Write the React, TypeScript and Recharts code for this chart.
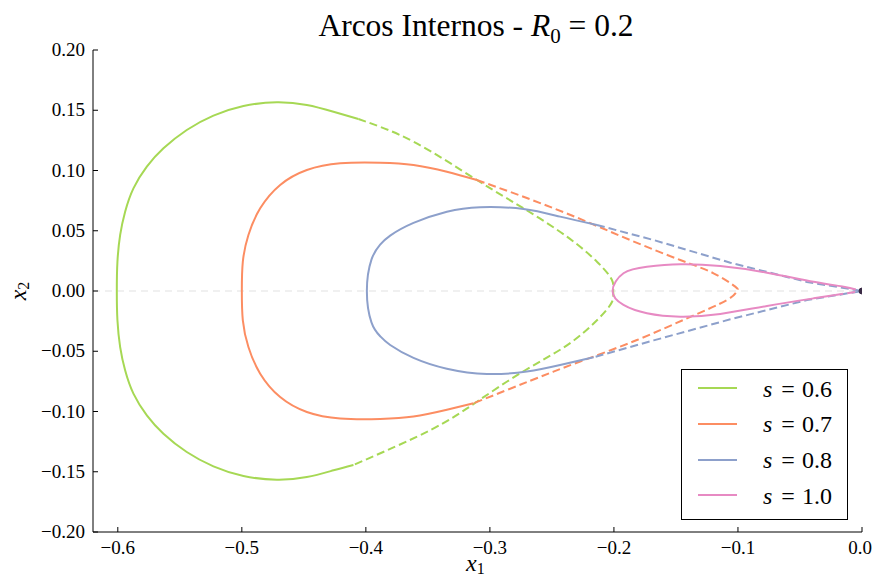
import { ComposedChart, Line, XAxis, YAxis, ReferenceLine } from "recharts"

const SERIF = "'Liberation Serif', 'Times New Roman', serif"

const xTicks = [-0.6, -0.5, -0.4, -0.3, -0.2, -0.1, 0]
const xTickLabels = ["\u22120.6", "\u22120.5", "\u22120.4", "\u22120.3", "\u22120.2", "\u22120.1", "0.0"]
const yTicks = [-0.2, -0.15, -0.1, -0.05, 0, 0.05, 0.1, 0.15, 0.2]
const yTickLabels = ["\u22120.20", "\u22120.15", "\u22120.10", "\u22120.05", "0.00", "0.05", "0.10", "0.15", "0.20"]

const seriesValues = ["0.6", "0.7", "0.8", "1.0"]
const colors = ["#a6d854", "#fc8d62", "#8da0cb", "#e78ac3"]

// [x1, x2] pairs, solid part then dashed part of each arc
const s06Solid = [
  [-0.406, 0.1427], [-0.4261, 0.1488], [-0.4476, 0.1544], [-0.4718, 0.1566], [-0.4987, 0.1535],
  [-0.5229, 0.1455], [-0.5444, 0.1336], [-0.5632, 0.1184], [-0.5766, 0.1032], [-0.5874, 0.0852],
  [-0.5941, 0.0658], [-0.5981, 0.0465], [-0.6003, 0.0243], [-0.6008, 0], [-0.6003, -0.0243],
  [-0.5981, -0.0465], [-0.5941, -0.0658], [-0.5874, -0.0852], [-0.5766, -0.1032], [-0.5632, -0.1184],
  [-0.5444, -0.1336], [-0.5229, -0.1455], [-0.4987, -0.1535], [-0.4718, -0.1566], [-0.4476, -0.1544],
  [-0.4261, -0.1488], [-0.41, -0.1444],
]
const s06Dashed = [
  [-0.406, 0.1427], [-0.3616, 0.1239], [-0.3105, 0.0921], [-0.2729, 0.0686], [-0.2379, 0.0451],
  [-0.2137, 0.0243], [-0.2016, 0.0091], [-0.2006, 0], [-0.2016, -0.0091], [-0.2137, -0.0243],
  [-0.2379, -0.0451], [-0.2729, -0.0666], [-0.3105, -0.0919], [-0.348, -0.1154], [-0.41, -0.1444],
]
const s07Solid = [
  [-0.3105, 0.0921], [-0.3347, 0.099], [-0.3616, 0.1046], [-0.3885, 0.1065], [-0.4207, 0.106],
  [-0.4476, 0.1004], [-0.4691, 0.088], [-0.4852, 0.0686], [-0.4947, 0.0465], [-0.4992, 0.0243],
  [-0.5, 0], [-0.4992, -0.0243], [-0.4947, -0.0465], [-0.4852, -0.0686], [-0.4691, -0.088],
  [-0.4476, -0.1004], [-0.4207, -0.1058], [-0.3885, -0.1062], [-0.3616, -0.1042], [-0.3347, -0.0985],
  [-0.3132, -0.0932],
]
const s07Dashed = [
  [-0.3105, 0.0921], [-0.2675, 0.0761], [-0.2272, 0.0598], [-0.1869, 0.0423], [-0.1465, 0.0257],
  [-0.1197, 0.0147], [-0.1022, 0.0036], [-0.1008, 0], [-0.1089, -0.0075], [-0.1411, -0.0227],
  [-0.1815, -0.0407], [-0.2272, -0.0585], [-0.2675, -0.0745], [-0.3132, -0.0932],
]
const s08Solid = [
  [-0.2137, 0.0548], [-0.2434, 0.0617], [-0.2729, 0.068], [-0.3079, 0.0695], [-0.3347, 0.0658],
  [-0.3616, 0.0565], [-0.3804, 0.046], [-0.3885, 0.0385], [-0.3955, 0.026], [-0.3992, 0],
  [-0.3955, -0.026], [-0.3885, -0.0375], [-0.3804, -0.0448], [-0.3616, -0.0555], [-0.3347, -0.0645],
  [-0.3024, -0.0689], [-0.2702, -0.0668], [-0.2434, -0.0614], [-0.2164, -0.055],
]
const s08Dashed = [
  [-0.2137, 0.0548], [-0.168, 0.0423], [-0.1062, 0.0235], [-0.0444, 0.0075], [0, 0],
  [-0.0444, -0.0075], [-0.1062, -0.0235], [-0.168, -0.041], [-0.2164, -0.055],
]
const s10Solid = [
  [-0.005, 0.0012], [-0.0148, 0.0036], [-0.039, 0.0077], [-0.0766, 0.0152], [-0.1143, 0.0207],
  [-0.1465, 0.0222], [-0.1734, 0.0202], [-0.1923, 0.0147], [-0.2011, 0], [-0.1923, -0.0116],
  [-0.1734, -0.0185], [-0.1465, -0.0213], [-0.1143, -0.0191], [-0.0766, -0.0124], [-0.039, -0.0061],
  [-0.0215, -0.0033],
]
const s10Dashed = [[-0.0215, -0.0033], [0, 0]]
const origin = [[0, 0]]

const toPts = (arr: number[][]) => arr.map(([x, y]) => ({ x, y }))

const BottomTick = ({ x, y, payload }: any) => {
  const i = xTicks.indexOf(payload.value)
  const last = i === xTicks.length - 1
  return (
    <g>
      <line x1={x} y1={y} x2={x} y2={y - 5} stroke="#000" />
      <text
        x={last ? 872 : x} y={y + 22} textAnchor={last ? "end" : "middle"}
        fontFamily={SERIF} fontSize={19} fill="#000"
      >
        {xTickLabels[i]}
      </text>
    </g>
  )
}

const LeftTick = ({ x, y, payload }: any) => {
  const i = yTicks.indexOf(payload.value)
  return (
    <g>
      <line x1={x} y1={y} x2={x + 5} y2={y} stroke="#000" />
      <text x={x - 8} y={y + 6} textAnchor="end" fontFamily={SERIF} fontSize={19} fill="#000">
        {yTickLabels[i]}
      </text>
    </g>
  )
}

const TopTick = ({ x, y }: any) => <line x1={x} y1={y} x2={x} y2={y + 5} stroke="#000" />
const RightTick = ({ x, y }: any) => <line x1={x} y1={y} x2={x - 5} y2={y} stroke="#000" />

export default function App() {
  const solids = [s06Solid, s07Solid, s08Solid, s10Solid]
  const dashed = [s06Dashed, s07Dashed, s08Dashed, s10Dashed]

  return (
    <div style={{ position: "relative", width: 873, height: 576, background: "#fff", fontFamily: SERIF }}>
      <style>{"body{margin:0}"}</style>
      <ComposedChart width={873} height={576} margin={{ top: 50, right: 11, bottom: 0, left: 0 }}>
        <XAxis
          dataKey="x" type="number" domain={[-0.62, 0]} ticks={xTicks} allowDataOverflow
          tick={<BottomTick />} tickLine={false} tickSize={0} tickMargin={0} height={44}
          axisLine={{ stroke: "#000" }}
        />
        <XAxis
          xAxisId="top" orientation="top" dataKey="x" type="number" domain={[-0.62, 0]} ticks={xTicks}
          allowDataOverflow tick={<TopTick />} tickLine={false} tickSize={0} tickMargin={0} height={0}
          axisLine={{ stroke: "#000" }}
        />
        <YAxis
          dataKey="y" type="number" domain={[-0.2, 0.2]} ticks={yTicks} allowDataOverflow
          tick={<LeftTick />} tickLine={false} tickSize={0} tickMargin={0} width={93}
          axisLine={{ stroke: "#000" }}
        />
        <YAxis
          yAxisId="right" orientation="right" type="number" domain={[-0.2, 0.2]} ticks={yTicks}
          allowDataOverflow tick={<RightTick />} tickLine={false} tickSize={0} tickMargin={0} width={0}
          axisLine={{ stroke: "#000" }}
        />
        <ReferenceLine y={0} stroke="#e2e2e2" strokeDasharray="7 5" strokeWidth={1.2} />
        {dashed.map((d, i) => (
          <Line
            key={"d" + i} data={toPts(d)} dataKey="y" type={i === 2 ? "linear" : "natural"}
            stroke={colors[i]} strokeWidth={2} strokeDasharray="8 4" dot={false} activeDot={false}
            isAnimationActive={false}
          />
        ))}
        {solids.map((d, i) => (
          <Line
            key={"s" + i} data={toPts(d)} dataKey="y" type="natural" stroke={colors[i]} strokeWidth={2}
            dot={false} activeDot={false} isAnimationActive={false}
          />
        ))}
        <Line
          data={toPts(origin)} dataKey="y" stroke="none" isAnimationActive={false} activeDot={false}
          dot={{ r: 3, fill: "#3a2a45", stroke: "#3a2a45" }}
        />
      </ComposedChart>

      <div style={{ position: "absolute", left: 0, width: 952, top: 7, textAlign: "center", fontSize: 31.5, lineHeight: 1.2, color: "#000", whiteSpace: "nowrap" }}>
        Arcos Internos - <i>R</i><sub style={{ fontSize: 21 }}>0</sub> = 0.2
      </div>
      <div style={{ position: "absolute", left: 466, top: 551, width: 30, height: 24, fontSize: 24, lineHeight: 1, color: "#000" }}>
        <i>x</i><span style={{ fontSize: 16, position: "relative", top: 3 }}>1</span>
      </div>
      <div
        style={{
          position: "absolute", left: 5, top: 279, width: 26, height: 24, textAlign: "center",
          fontSize: 24, lineHeight: 1, color: "#000", transform: "rotate(-90deg)",
        }}
      >
        <i>x</i><span style={{ fontSize: 16, position: "relative", top: 3 }}>2</span>
      </div>

      <div
        style={{
          position: "absolute", left: 681, top: 369, width: 165, height: 149,
          border: "1px solid #000", background: "#fff",
        }}
      >
        {seriesValues.map((v, i) => (
          <div key={v} style={{ position: "absolute", left: 0, top: 1 + i * 35.8, height: 34, width: 165 }}>
            <div style={{ position: "absolute", left: 16, top: 16, width: 39, height: 2, background: colors[i] }} />
            <div style={{ position: "absolute", left: 81, top: 3.5, fontSize: 24, lineHeight: 1.2, color: "#000", whiteSpace: "nowrap" }}>
              <i>s</i>
              <span style={{ marginLeft: 9, marginRight: 7 }}>=</span>
              {v}
            </div>
          </div>
        ))}
      </div>
    </div>
  )
}
